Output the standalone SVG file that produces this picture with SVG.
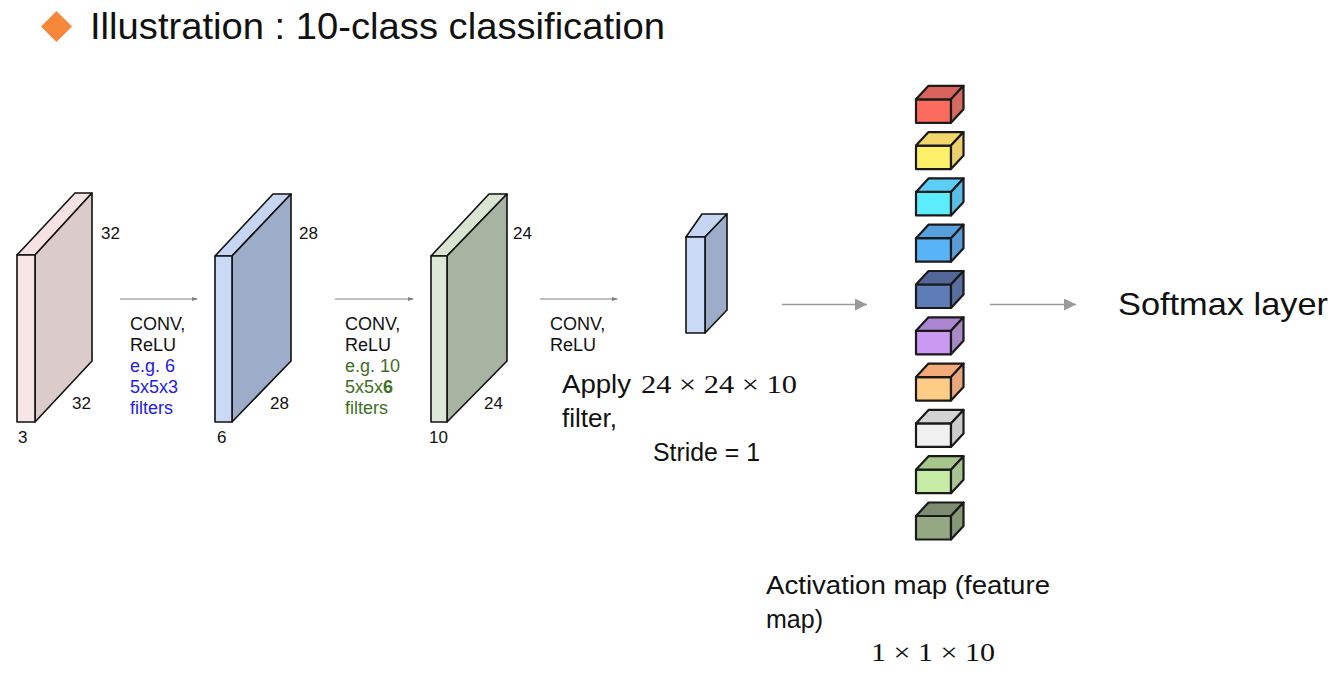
<svg xmlns="http://www.w3.org/2000/svg" width="1341" height="689" viewBox="0 0 1341 689">
<defs>
<style>
.bg{fill:#ffffff}
.vol{stroke:#111;stroke-width:1.6;stroke-linejoin:round}
.cube polygon,.cube rect{stroke:#1a1a1a;stroke-width:2.2;stroke-linejoin:round}
.lbl{font-family:"Liberation Sans",Arial,sans-serif;font-size:17px;fill:#111}
.op{font-family:"Liberation Sans",Arial,sans-serif;font-size:18px;fill:#111}
.blue{fill:#2020e8}
.green{fill:#3d7024}
.big{font-family:"Liberation Sans","DejaVu Sans",sans-serif;fill:#111}
.math{font-family:"Liberation Serif","DejaVu Serif",serif;fill:#111}
.thin{stroke:#808080;stroke-width:1.2;fill:none}
.thick{stroke:#9a9a9a;stroke-width:1.5;fill:none}
</style>
<marker id="ah-s" markerWidth="6" markerHeight="6" refX="5" refY="3" orient="auto" markerUnits="userSpaceOnUse">
<path d="M0,1 L6,3 L0,5 Z" fill="#808080"/>
</marker>
<marker id="ah-l" markerWidth="13" markerHeight="12" refX="12" refY="6" orient="auto" markerUnits="userSpaceOnUse">
<path d="M0,0 L12,6 L0,12 Z" fill="#9a9a9a"/>
</marker>
</defs>
<rect class="bg" x="0" y="0" width="1341" height="689"/>

<g id="title">
<polygon points="56.5,11 72,26.5 56.5,42 41,26.5" fill="#f5873a"/>
<text class="big" x="90" y="39" font-size="36" textLength="575" lengthAdjust="spacingAndGlyphs">Illustration : 10-class classification</text>
</g>

<g id="volume1">
<polygon class="vol" points="17,255 75,193 92,193 35,255" fill="#f6e2e2"/>
<polygon class="vol" points="35,255 92,193 92,361 35,422" fill="#dccbcb"/>
<rect class="vol" x="17" y="255" width="18" height="167" fill="#f8e6e6"/>
<text class="lbl" x="101" y="239">32</text>
<text class="lbl" x="72" y="409">32</text>
<text class="lbl" x="18" y="443">3</text>
</g>

<g id="volume2">
<polygon class="vol" points="215,256 273,194 291,194 232,256" fill="#c6d6f2"/>
<polygon class="vol" points="232,256 291,194 291,361 232,422" fill="#9dadc9"/>
<rect class="vol" x="215" y="256" width="17" height="166" fill="#c9d9f6"/>
<text class="lbl" x="299" y="239">28</text>
<text class="lbl" x="270" y="409">28</text>
<text class="lbl" x="217" y="443">6</text>
</g>

<g id="volume3">
<polygon class="vol" points="431,256 489,194 507,194 447,256" fill="#d9e4d3"/>
<polygon class="vol" points="447,256 507,194 507,361 447,422" fill="#a8b4a2"/>
<rect class="vol" x="431" y="256" width="16" height="166" fill="#dde8d9"/>
<text class="lbl" x="513" y="239">24</text>
<text class="lbl" x="484" y="409">24</text>
<text class="lbl" x="429" y="443">10</text>
</g>

<g id="filter-block">
<polygon class="vol" points="686,237 702,214 727,214 705,237" fill="#c6d6f2"/>
<polygon class="vol" points="705,237 727,214 727,310 705,333" fill="#9dadc9"/>
<rect class="vol" x="686" y="237" width="19" height="96" fill="#c9d9f6"/>
</g>

<g id="cubes">
<g class="cube" transform="translate(916,99.3)"><rect x="0" y="0" width="35" height="23.5" fill="#fb6b5e"/><polygon points="0,0 12.5,-13.5 47.5,-13.5 35,0" fill="#d9645b"/><polygon points="35,0 47.5,-13.5 47.5,10 35,23.5" fill="#d46a62"/></g>
<g class="cube" transform="translate(916,145.6)"><rect x="0" y="0" width="35" height="23.5" fill="#fff06a"/><polygon points="0,0 12.5,-13.5 47.5,-13.5 35,0" fill="#f3d76a"/><polygon points="35,0 47.5,-13.5 47.5,10 35,23.5" fill="#ecd070"/></g>
<g class="cube" transform="translate(916,191.9)"><rect x="0" y="0" width="35" height="23.5" fill="#5cedfd"/><polygon points="0,0 12.5,-13.5 47.5,-13.5 35,0" fill="#5ccdf5"/><polygon points="35,0 47.5,-13.5 47.5,10 35,23.5" fill="#5cbde6"/></g>
<g class="cube" transform="translate(916,238.2)"><rect x="0" y="0" width="35" height="23.5" fill="#59b4f7"/><polygon points="0,0 12.5,-13.5 47.5,-13.5 35,0" fill="#58a0dc"/><polygon points="35,0 47.5,-13.5 47.5,10 35,23.5" fill="#5a9dd6"/></g>
<g class="cube" transform="translate(916,284.5)"><rect x="0" y="0" width="35" height="23.5" fill="#5e7cb8"/><polygon points="0,0 12.5,-13.5 47.5,-13.5 35,0" fill="#53669a"/><polygon points="35,0 47.5,-13.5 47.5,10 35,23.5" fill="#59709e"/></g>
<g class="cube" transform="translate(916,330.8)"><rect x="0" y="0" width="35" height="23.5" fill="#cc99f2"/><polygon points="0,0 12.5,-13.5 47.5,-13.5 35,0" fill="#ab85cf"/><polygon points="35,0 47.5,-13.5 47.5,10 35,23.5" fill="#a88ac8"/></g>
<g class="cube" transform="translate(916,377.1)"><rect x="0" y="0" width="35" height="23.5" fill="#ffcc88"/><polygon points="0,0 12.5,-13.5 47.5,-13.5 35,0" fill="#f4a978"/><polygon points="35,0 47.5,-13.5 47.5,10 35,23.5" fill="#e8a67f"/></g>
<g class="cube" transform="translate(916,423.4)"><rect x="0" y="0" width="35" height="23.5" fill="#f0f0f0"/><polygon points="0,0 12.5,-13.5 47.5,-13.5 35,0" fill="#d3d3d3"/><polygon points="35,0 47.5,-13.5 47.5,10 35,23.5" fill="#cdcdcd"/></g>
<g class="cube" transform="translate(916,469.7)"><rect x="0" y="0" width="35" height="23.5" fill="#c5eba4"/><polygon points="0,0 12.5,-13.5 47.5,-13.5 35,0" fill="#a6c78c"/><polygon points="35,0 47.5,-13.5 47.5,10 35,23.5" fill="#a9c493"/></g>
<g class="cube" transform="translate(916,516)"><rect x="0" y="0" width="35" height="23.5" fill="#93a883"/><polygon points="0,0 12.5,-13.5 47.5,-13.5 35,0" fill="#7d8c6e"/><polygon points="35,0 47.5,-13.5 47.5,10 35,23.5" fill="#869a78"/></g>
</g>

<g id="connectors">
<line class="thin" x1="120" y1="299" x2="197" y2="299" marker-end="url(#ah-s)"/>
<line class="thin" x1="335" y1="299" x2="413" y2="299" marker-end="url(#ah-s)"/>
<line class="thin" x1="540" y1="299" x2="617" y2="299" marker-end="url(#ah-s)"/>
<line class="thick" x1="782" y1="304.5" x2="867" y2="304.5" marker-end="url(#ah-l)"/>
<line class="thick" x1="990" y1="304.5" x2="1076" y2="304.5" marker-end="url(#ah-l)"/>
</g>

<g id="op1-label">
<text class="op" x="130" y="330">CONV,</text>
<text class="op" x="130" y="351">ReLU</text>
<text class="op blue" x="130" y="372">e.g. 6</text>
<text class="op blue" x="130" y="393">5x5x3</text>
<text class="op blue" x="130" y="414">filters</text>
</g>
<g id="op2-label">
<text class="op" x="345" y="330">CONV,</text>
<text class="op" x="345" y="351">ReLU</text>
<text class="op green" x="345" y="372">e.g. 10</text>
<text class="op green" x="345" y="393">5x5x<tspan font-weight="bold">6</tspan></text>
<text class="op green" x="345" y="414">filters</text>
</g>
<g id="op3-label">
<text class="op" x="550" y="330">CONV,</text>
<text class="op" x="550" y="351">ReLU</text>
</g>

<g id="apply-text">
<text class="big" x="562" y="393" font-size="25" textLength="69" lengthAdjust="spacingAndGlyphs">Apply</text>
<text class="math" x="641" y="393" font-size="25" textLength="156" lengthAdjust="spacingAndGlyphs">24 × 24 × 10</text>
<text class="big" x="562" y="427" font-size="25" textLength="55" lengthAdjust="spacingAndGlyphs">filter,</text>
<text class="big" x="653" y="461" font-size="25" textLength="107" lengthAdjust="spacingAndGlyphs">Stride = 1</text>
</g>

<g id="softmax">
<text class="big" x="1118" y="315" font-size="32" textLength="210" lengthAdjust="spacingAndGlyphs">Softmax layer</text>
</g>

<g id="activation-text">
<text class="big" x="766" y="594" font-size="25" textLength="284" lengthAdjust="spacingAndGlyphs">Activation map (feature</text>
<text class="big" x="766" y="628" font-size="25">map)</text>
<text class="math" x="871" y="661" font-size="25" textLength="124" lengthAdjust="spacingAndGlyphs">1 × 1 × 10</text>
</g>
</svg>
